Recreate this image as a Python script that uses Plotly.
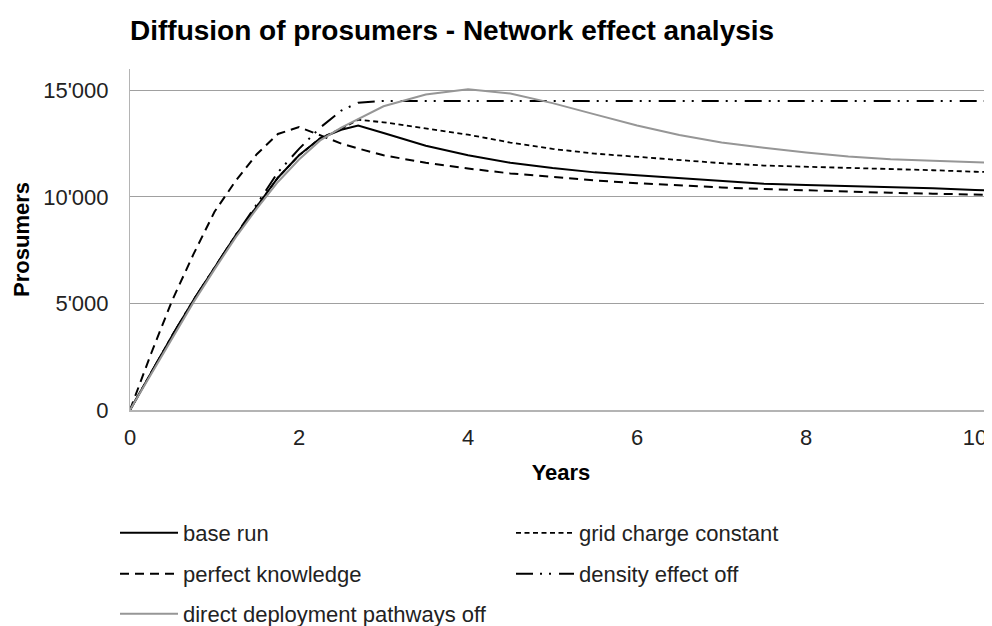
import plotly.graph_objects as go

years = [0, 0.25, 0.5, 0.75, 1.0, 1.25, 1.5, 1.75, 2.0, 2.25, 2.5, 2.7, 3.0, 3.5, 4.0, 4.5,
         5.0, 5.5, 6.0, 6.5, 7.0, 7.5, 8.0, 8.5, 9.0, 9.5, 10.0, 10.25]

base_run = [0, 1750, 3500, 5150, 6700, 8200, 9550, 10900, 11950, 12750, 13150, 13350, 13000,
            12400, 11950, 11600, 11350, 11150, 11020, 10880, 10750, 10620, 10560, 10510,
            10460, 10400, 10320, 10300]

grid_charge_constant = [0, 1750, 3500, 5150, 6700, 8200, 9550, 10900, 11950, 12750, 13200,
                        13620, 13500, 13200, 12920, 12550, 12250, 12030, 11880, 11720, 11580,
                        11470, 11420, 11370, 11310, 11250, 11180, 11160]

perfect_knowledge = [0, 2650, 5150, 7300, 9300, 10750, 12000, 12950, 13280, 12900, 12500,
                     12270, 11950, 11600, 11330, 11100, 10920, 10770, 10640, 10530, 10440,
                     10370, 10300, 10240, 10190, 10150, 10100, 10090]

density_effect_off = [0, 1750, 3500, 5150, 6700, 8200, 9650, 11150, 12250, 13250, 14050,
                      14420, 14500, 14500, 14500, 14500, 14500, 14500, 14500, 14500, 14500,
                      14500, 14500, 14500, 14500, 14500, 14500, 14500]

direct_deployment_off = [0, 1700, 3400, 5050, 6600, 8100, 9450, 10700, 11750, 12650, 13250,
                         13650, 14250, 14800, 15050, 14850, 14400, 13870, 13350, 12900, 12550,
                         12300, 12080, 11900, 11770, 11690, 11620, 11600]

y_ticks = [0, 5000, 10000, 15000]
y_tick_labels = ["0", "5'000", "10'000", "15'000"]
x_ticks = [0, 2, 4, 6, 8, 10]

FONT = "Arial, Liberation Sans, sans-serif"

# page body has an 8px margin; the figure is sized to fill the rest of the window
W, H = 984, 618
OFF = 8

series = [
    ("base run", base_run, dict(color="#000000", width=2, dash="solid"), "legend"),
    ("grid charge constant", grid_charge_constant, dict(color="#000000", width=1.8, dash="5px,3.5px"), "legend"),
    ("perfect knowledge", perfect_knowledge, dict(color="#000000", width=2, dash="9px,6px"), "legend2"),
    ("density effect off", density_effect_off, dict(color="#000000", width=2, dash="17px,7px,2px,7px,2px,8px"), "legend2"),
    ("direct deployment pathways off", direct_deployment_off, dict(color="#969696", width=2, dash="solid"), "legend3"),
]

fig = go.Figure()
for name, vals, line, lg in series:
    fig.add_trace(go.Scatter(x=years, y=vals, mode="lines", name=name, line=line,
                             legend=lg, hoverinfo="skip"))

legend_common = dict(orientation="h", xref="container", yref="container",
                     x=107 / W, xanchor="left", yanchor="middle",
                     entrywidth=323, entrywidthmode="pixels", itemwidth=58,
                     font=dict(family=FONT, size=22, color="#222222"),
                     bgcolor="rgba(0,0,0,0)", borderwidth=0)

fig.update_layout(
    width=W, height=H,
    margin=dict(l=130 - OFF, r=0, t=69 - OFF, b=H - (410 - OFF), autoexpand=False),
    paper_bgcolor="white", plot_bgcolor="white",
    title=dict(text="<b>Diffusion of prosumers - Network effect analysis</b>",
               x=(130 - OFF) / W, xanchor="left", xref="container",
               y=1 - (30 - OFF) / H, yanchor="middle", yref="container",
               font=dict(family=FONT, size=28, color="#000000")),
    legend=dict(**legend_common, y=1 - (533 - OFF) / H),
    legend2=dict(**legend_common, y=1 - (574 - OFF) / H),
    legend3=dict(**legend_common, y=1 - (614 - OFF) / H),
    xaxis=dict(range=[0, 10.2], tickvals=x_ticks, showgrid=False, zeroline=False,
               showline=True, linecolor="#b4b4b4", linewidth=2,
               ticks="", ticklabelstandoff=7,
               tickfont=dict(family=FONT, size=22, color="#222222"),
               title=dict(text="<b>Years</b>", standoff=15,
                          font=dict(family=FONT, size=22, color="#000000"))),
    yaxis=dict(range=[0, 16000], tickvals=y_ticks, ticktext=y_tick_labels,
               showgrid=True, gridcolor="#a0a0a0", gridwidth=1, zeroline=False,
               showline=True, linecolor="#b4b4b4", linewidth=1,
               ticks="", ticklabelstandoff=16,
               tickfont=dict(family=FONT, size=22, color="#222222"),
               title=dict(text="<b>Prosumers</b>", standoff=7,
                          font=dict(family=FONT, size=22, color="#000000"))),
)

fig.write_html("out.html")
